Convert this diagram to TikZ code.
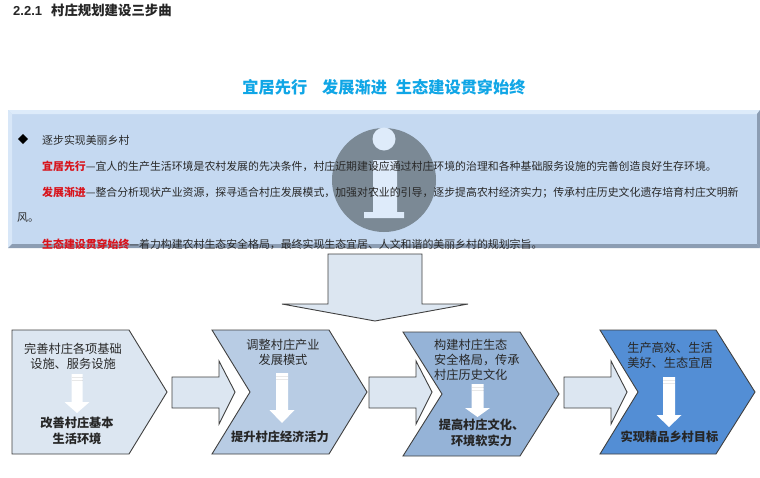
\documentclass[tikz,border=0pt]{standalone}
\usepackage{fontspec}
\setmainfont{Noto Sans CJK SC}
\newfontfamily\latinf{Liberation Sans}
\usetikzlibrary{calc}
\definecolor{panelc}{HTML}{C5D9F1}
\definecolor{panelhi}{HTML}{DDEBFA}
\definecolor{panello}{HTML}{8C9DB3}
\definecolor{chevA}{HTML}{DCE6F1}
\definecolor{chevB}{HTML}{B8CCE4}
\definecolor{chevC}{HTML}{95B3D7}
\definecolor{chevD}{HTML}{538ED5}
\definecolor{titlec}{HTML}{10A6E6}
\definecolor{redc}{HTML}{D8141C}
\definecolor{txt}{HTML}{282828}
\definecolor{edgec}{HTML}{404040}
\definecolor{iconc}{HTML}{7B8995}
\definecolor{iconl}{HTML}{DEEBFA}
\tikzset{
  x=1pt,y=-1pt,
  blockshape/.style={draw=edgec,line width=0.9pt,line join=miter},
  bodytext/.style={anchor=west,inner sep=0pt,font=\fontsize{10.9}{13}\selectfont,text=txt},
  cheatext/.style={align=center,inner sep=0pt,font=\fontsize{12.2}{15}\selectfont,text=txt},
  cheabold/.style={align=center,inner sep=0pt,font=\bfseries\fontsize{12.2}{16}\selectfont,text=black!85},
  whitearrow/.style={fill=white,draw=none},
  stripe/.style={draw=black,draw opacity=0.09,line width=1pt},
}
\newcommand{\whitearr}[5]{% cx, top, shoulder, tip, half shaft ; head half = 12.5
  \fill[whitearrow] (#1-#5,#2) -- (#1+#5,#2) -- (#1+#5,#3) -- (#1+12.5,#3) -- (#1,#4) -- (#1-12.5,#3) -- (#1-#5,#3) -- cycle;
  \draw[stripe] (#1-#5,#2+3) -- (#1+#5,#2+3);
  \draw[stripe] (#1-#5,#2+6.5) -- (#1+#5,#2+6.5);
}
\newcommand{\sidearr}[3]{% left, head x, tip x
  \draw[blockshape,fill=chevA] (#1,377) -- (#2,377) -- (#2,361) -- (#3,392) -- (#2,424) -- (#2,408) -- (#1,408) -- cycle;
}
\begin{document}
\begin{tikzpicture}
\useasboundingbox (0,0) rectangle (760,477);
\fill[white] (0,0) rectangle (760,477);
\node[anchor=west,inner sep=0pt,font=\bfseries\fontsize{13.4}{15}\selectfont,text=black!85] (heading) at (13,10) {{\latinf\bfseries\fontsize{13}{15}\selectfont 2.2.1}\hspace{9pt}村庄规划建设三步曲};
\node[inner sep=0pt,font=\bfseries\fontsize{16.2}{18}\selectfont,text=titlec] (maintitle) at (384,87) {宜居先行\hspace{15pt}发展渐进\hspace{9pt}生态建设贯穿始终};
% panel
\fill[panelc] (8,110) rectangle (760,248);
\fill[panelhi] (8,110) -- (760,110) -- (757,114) -- (12,114) -- cycle;
\fill[panelhi!80!panelc] (8,110) -- (12,114) -- (12,244) -- (8,248) -- cycle;
\fill[panello] (8,248) -- (760,248) -- (757,244) -- (12,244) -- cycle;
\fill[panello] (760,110) -- (760,248) -- (757,244) -- (757,114) -- cycle;
% info icon
\fill[iconc] (384,180) circle (52);
\fill[iconl] (384,139) circle (11.5);
\fill[iconl] (373,160) -- (397,160) -- (397,212) -- (404,212) -- (404,218) -- (364,218) -- (364,212) -- (373,212) -- cycle;
% body text
\node[inner sep=0pt,font=\fontsize{10.5}{13}\selectfont,text=black] (bullet) at (23,139.500) {◆};
\node[bodytext] (l1) at (42,140) {逐步实现美丽乡村};
\node[bodytext] (l2) at (42,166) {\textcolor{redc}{\bfseries 宜居先行}—宜人的生产生活环境是农村发展的先决条件，村庄近期建设应通过村庄环境的治理和各种基础服务设施的完善创造良好生存环境。};
\node[bodytext] (l3) at (42,193) {\textcolor{redc}{\bfseries 发展渐进}—整合分析现状产业资源，探寻适合村庄发展模式，加强对农业的引导，逐步提高农村经济实力；传承村庄历史文化遗存培育村庄文明新};
\node[bodytext] (l4) at (17,218) {风。};
\node[bodytext] (l5) at (42,244) {\textcolor{redc}{\bfseries 生态建设贯穿始终}—着力构建农村生态安全格局，最终实现生态宜居、人文和谐的美丽乡村的规划宗旨。};
% big arrow
\draw[blockshape,fill=chevA] (328,254) -- (422,254) -- (422,304) -- (468,304) -- (375,321) -- (282,304) -- (328,304) -- cycle;
% chevrons
\draw[blockshape,fill=chevA] (12,330) -- (129,330) -- (167,392) -- (129,454) -- (12,454) -- cycle;
\draw[blockshape,fill=chevB] (212,330) -- (329,330) -- (367,392) -- (329,454) -- (212,454) -- (250,392) -- cycle;
\draw[blockshape,fill=chevC] (403,332) -- (520,332) -- (559,394) -- (520,456) -- (403,456) -- (442,394) -- cycle;
\draw[blockshape,fill=chevD] (600,330) -- (716,330) -- (755,392) -- (716,454) -- (600,454) -- (638,392) -- cycle;
% side arrows
\sidearr{172}{219}{235}
\sidearr{369}{416}{432}
\sidearr{564}{611}{627}
% white arrows
\whitearr{77}{374}{402}{413}{5.500}
\whitearr{282}{373}{410}{423}{6}
\whitearr{477.500}{384}{408}{417}{6}
\whitearr{669}{377}{415}{427}{6}
% chevron text
\node[cheatext] (a1) at (73,356.500) {完善村庄各项基础\\设施、服务设施};
\node[cheatext] (b1) at (283,352) {调整村庄产业\\发展模式};
\node[cheatext,anchor=west,align=left] (c1) at (434,360) {构建村庄生态\\安全格局，传承\\村庄历史文化};
\node[cheatext] (d1) at (670,355.500) {生产高效、生活\\美好、生态宜居};
\node[cheabold] (a2) at (77,431) {改善村庄基本\\生活环境};
\node[cheabold] (b2) at (280,437) {提升村庄经济活力};
\node[cheabold] (c2) at (481.500,433) {提高村庄文化、\\环境软实力};
\node[cheabold] (d2) at (669.500,437) {实现精品乡村目标};
\end{tikzpicture}
\end{document}
